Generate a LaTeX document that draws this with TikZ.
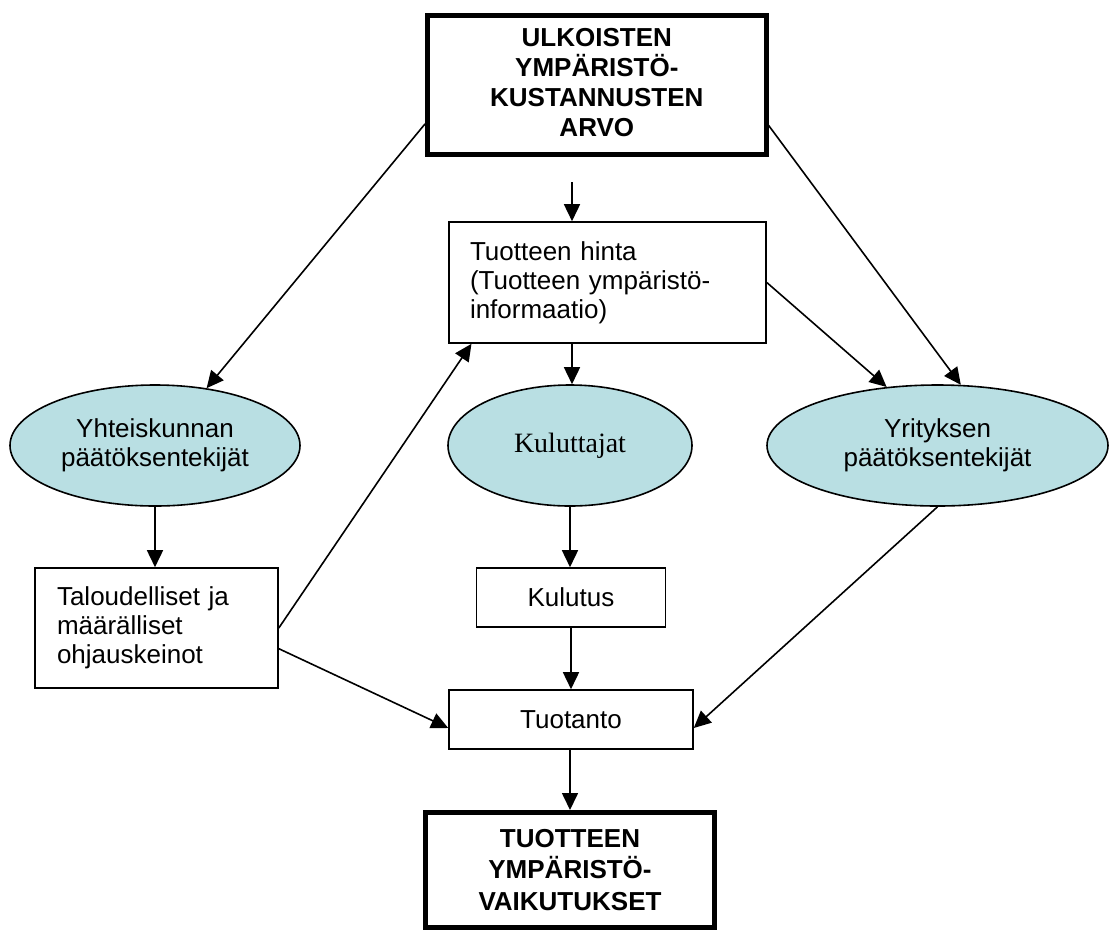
\documentclass[tikz,border=0pt]{standalone}
\usepackage{fontspec}
\setmainfont{Liberation Sans}
\newfontfamily\tnrfont{Liberation Serif}
\usetikzlibrary{shapes.geometric,arrows.meta,calc}
\definecolor{ovalfill}{RGB}{185,223,227}
\tikzset{
  thinbox/.style={draw, line width=1.6pt, inner sep=0pt, font=\fontsize{26}{29}\selectfont},
  bigbox/.style={draw, line width=5pt, inner sep=0pt, align=center, font=\bfseries\fontsize{26}{30}\selectfont},
  oval/.style={ellipse, draw, fill=ovalfill, line width=1.6pt, inner sep=0pt, align=center, font=\fontsize{26}{29}\selectfont},
  arr/.style={-{Triangle[length=17pt,width=16pt]}, line width=1.6pt}
}
\begin{document}
\begin{tikzpicture}[x=1pt,y=-1pt]
\useasboundingbox (0,0) rectangle (1110,930);
% nodes
\node[bigbox, minimum width=338.5pt, minimum height=139pt, text depth=6pt] (top) at (596.8,85) {ULKOISTEN\\YMPÄRISTÖ-\\KUSTANNUSTEN\\ARVO};
\node[thinbox, minimum width=317pt, minimum height=121pt, text width=275pt, align=left] (hinta) at (607.5,282.5) {Tuotteen hinta\\(Tuotteen ympäristö-\\informaatio)};
\node[oval, minimum width=290pt, minimum height=121pt] (yk) at (155,445.5) {Yhteiskunnan\\päätöksentekijät};
\node[oval, minimum width=244pt, minimum height=121pt, font=\tnrfont\fontsize{28}{30}\selectfont] (ku) at (570,445.5) {Kuluttajat};
\node[oval, minimum width=341pt, minimum height=121pt] (yr) at (937.5,445.5) {Yrityksen\\päätöksentekijät};
\node[thinbox, minimum width=243pt, minimum height=120pt, text width=199pt, align=left] (lb) at (156.5,628) {Taloudelliset ja\\määrälliset\\ohjauskeinot};
\node[thinbox, minimum width=189pt, minimum height=59pt] (kul) at (571,597.5) {Kulutus};
\node[thinbox, minimum width=244pt, minimum height=59pt] (tuo) at (571,719.5) {Tuotanto};
\node[bigbox, minimum width=289pt, minimum height=114.5pt, font=\bfseries\fontsize{26}{31.5}\selectfont] (bot) at (570,869.75) {TUOTTEEN\\YMPÄRISTÖ-\\VAIKUTUKSET};
\coordinate (s) at (572,182);
% vertical arrows
\draw[arr] (s) -- (s |- hinta.north);
\draw[arr] (hinta.south -| s) -- (s |- ku.north);
\draw[arr] (ku.south) -- (ku.south |- kul.north);
\draw[arr] (kul.south) -- (kul.south |- tuo.north);
\draw[arr] (tuo.south -| ku.south) -- (ku.south |- bot.north);
\draw[arr] (yk.south) -- (yk.south |- lb.north);
% diagonal arrows
\draw[arr] ($(top.north west)!0.77!(top.south west)$) -- (yk.48.6);
\draw[arr] ($(top.north east)!0.78!(top.south east)$) -- (yr.69.4);
\draw[arr] (hinta.east) -- (yr.131);
\draw[arr] (lb.east) -- ($(hinta.south west)!0.073!(hinta.south east)$);
\draw[arr] ($(lb.north east)!0.67!(lb.south east)$) -- ($(tuo.north west)!0.64!(tuo.south west)$);
\draw[arr] (yr.south) -- ($(tuo.north east)!0.64!(tuo.south east)$);
\end{tikzpicture}
\end{document}
